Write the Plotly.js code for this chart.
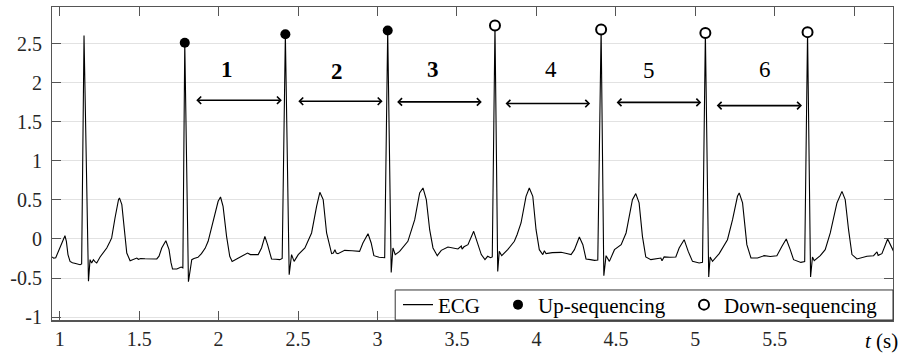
<!DOCTYPE html>
<html><head><meta charset="utf-8">
<script src="https://cdn.plot.ly/plotly-3.0.1.min.js"></script>
<style>html,body{margin:0;padding:0;background:#fff}#chart{width:904px;height:356px}</style>
</head><body><div id="chart"></div>
<script>
const ecgT = [0.952,0.962,0.975,0.995,1.010,1.033,1.042,1.052,1.065,1.080,1.100,1.128,1.138,1.153,1.181,1.191,1.201,1.212,1.222,1.233,1.254,1.275,1.296,1.315,1.327,1.348,1.360,1.370,1.376,1.384,1.391,1.407,1.422,1.443,1.465,1.485,1.495,1.510,1.537,1.570,1.611,1.625,1.642,1.668,1.680,1.688,1.700,1.710,1.737,1.750,1.764,1.775,1.787,1.810,1.820,1.831,1.845,1.856,1.870,1.892,1.915,1.934,1.965,1.997,2.012,2.028,2.050,2.070,2.085,2.113,2.140,2.165,2.182,2.200,2.249,2.270,2.291,2.308,2.333,2.360,2.385,2.400,2.420,2.444,2.459,2.475,2.501,2.543,2.585,2.6165,2.637,2.658,2.6795,2.711,2.722,2.732,2.740,2.751,2.793,2.840,2.887,2.908,2.940,2.960,2.977,3.010,3.034,3.045,3.064,3.086,3.097,3.1115,3.139,3.165,3.191,3.234,3.265,3.286,3.307,3.328,3.349,3.376,3.401,3.443,3.475,3.506,3.527,3.532,3.544,3.569,3.605,3.632,3.653,3.676,3.693,3.711,3.722,3.739,3.7563,3.766,3.7815,3.819,3.861,3.878,3.903,3.9345,3.955,3.977,3.9975,4.018,4.040,4.050,4.0605,4.100,4.155,4.190,4.218,4.239,4.270,4.292,4.312,4.340,4.365,4.386,4.407,4.424,4.438,4.459,4.491,4.533,4.564,4.572,4.604,4.625,4.646,4.667,4.688,4.720,4.750,4.775,4.783,4.790,4.8035,4.840,4.877,4.898,4.9295,4.955,4.982,5.024,5.045,5.063,5.084,5.093,5.108,5.150,5.202,5.234,5.265,5.276,5.297,5.324,5.350,5.391,5.433,5.471,5.513,5.545,5.572,5.597,5.618,5.664,5.688,5.706,5.725,5.737,5.748,5.786,5.817,5.849,5.891,5.9225,5.943,5.964,5.9855,6.017,6.080,6.1215,6.143,6.150,6.174,6.210,6.233,6.2475];
const ecgV = [-0.231,-0.245,-0.240,-0.150,-0.060,0.042,-0.030,-0.200,-0.287,-0.305,-0.315,-0.330,-0.320,2.606,-0.540,-0.265,-0.308,-0.265,-0.290,-0.308,-0.231,-0.170,-0.115,-0.040,0.013,0.269,0.420,0.504,0.526,0.490,0.440,0.119,-0.180,-0.278,-0.265,-0.244,-0.260,-0.250,-0.253,-0.258,-0.256,-0.220,-0.115,-0.022,-0.080,-0.137,-0.300,-0.385,-0.385,-0.370,-0.360,-0.370,2.513,-0.548,-0.400,-0.265,-0.250,-0.244,-0.235,-0.188,-0.120,-0.030,0.205,0.483,0.538,0.418,0.034,-0.222,-0.287,-0.253,-0.230,-0.200,-0.180,-0.200,-0.200,-0.115,0.034,-0.073,-0.256,-0.260,-0.265,-0.250,2.623,-0.458,-0.200,-0.287,-0.200,-0.115,0.077,0.418,0.598,0.504,0.077,-0.188,-0.180,-0.137,-0.180,-0.188,-0.146,-0.150,-0.159,-0.051,0.068,-0.051,-0.214,-0.235,-0.244,-0.240,2.670,-0.428,-0.115,-0.200,-0.159,-0.100,-0.030,0.247,0.590,0.654,0.504,0.119,-0.115,-0.214,-0.146,-0.103,-0.115,-0.128,-0.090,-0.130,-0.100,-0.073,0.098,-0.073,-0.200,-0.265,-0.222,-0.240,-0.230,2.735,-0.415,-0.159,-0.214,-0.137,-0.030,0.055,0.205,0.547,0.654,0.547,0.119,-0.137,-0.200,-0.150,-0.188,-0.175,-0.171,-0.185,-0.200,-0.137,0.025,-0.073,-0.256,-0.265,-0.274,-0.270,2.683,-0.470,-0.214,-0.287,-0.137,-0.073,0.077,0.162,0.504,0.581,0.462,0.034,-0.231,-0.265,-0.255,-0.250,-0.244,-0.280,-0.230,-0.235,-0.231,-0.115,-0.009,-0.159,-0.287,-0.308,-0.300,2.640,-0.488,-0.231,-0.287,-0.188,-0.009,0.247,0.547,0.590,0.462,-0.073,-0.244,-0.244,-0.214,-0.225,-0.214,-0.094,0.000,-0.137,-0.265,-0.300,-0.290,2.650,-0.488,-0.231,-0.278,-0.214,-0.137,0.077,0.462,0.610,0.504,0.119,-0.200,-0.256,-0.222,-0.214,-0.165,-0.210,-0.188,0.000,-0.094,-0.159];
const upT = [1.787, 2.420, 3.064];
const upV = [2.513, 2.623, 2.670];
const downT = [3.739, 4.407, 5.063, 5.706];
const downV = [2.735, 2.683, 2.640, 2.650];
const intervalLabels = ['1','2','3','4','5','6'];
const intervalBold = [true, true, true, false, false, false];
const arrowStart = [1.850, 2.492, 3.114, 3.796, 4.495, 5.125];
const arrowEnd = [2.398, 3.032, 3.656, 4.338, 5.037, 5.671];
const arrowY = [1.777, 1.764, 1.756, 1.735, 1.750, 1.709];
const labelX = [2.052, 2.746, 3.351, 4.090, 4.711, 5.440];
const labelY = [2.171, 2.145, 2.170, 2.177, 2.160, 2.174];
const yTickVals = [-1, -0.5, 0, 0.5, 1, 1.5, 2, 2.5];
const yTickText = ['-1', '-0.5', '0', '0.5', '1', '1.5', '2', '2.5'];
const xTickVals = [1, 1.5, 2, 2.5, 3, 3.5, 4, 4.5, 5, 5.5, 6];
const xTickText = ['1', '1.5', '2', '2.5', '3', '3.5', '4', '4.5', '5', '5.5', ''];

const serifFace = 'Liberation Serif';
const traces = [
  {x: ecgT, y: ecgV, mode: 'lines', name: 'ECG', line: {color: '#000', width: 1.1}, hoverinfo: 'skip', legendwidth: 55},
  {x: upT, y: upV, mode: 'markers', name: 'Up-sequencing', marker: {color: '#000', size: 10, symbol: 'circle'}, legendwidth: 141},
  {x: downT, y: downV, mode: 'markers', name: 'Down-sequencing', marker: {color: '#fff', size: 10, symbol: 'circle', line: {color: '#000', width: 2}}, legendwidth: 164}
];
const annotations = [];
for (let i = 0; i < intervalLabels.length; i++) {
  annotations.push({x: arrowEnd[i], y: arrowY[i], ax: arrowStart[i], ay: arrowY[i], xref: 'x', yref: 'y', axref: 'x', ayref: 'y',
    text: '', showarrow: true, arrowside: 'end+start', arrowhead: 4, startarrowhead: 4, arrowsize: 0.9, startarrowsize: 0.9,
    arrowwidth: 1.6, arrowcolor: '#000', standoff: 0, startstandoff: 0});
  annotations.push({x: labelX[i], y: labelY[i], xref: 'x', yref: 'y', showarrow: false,
    text: intervalBold[i] ? '<b>' + intervalLabels[i] + '</b>' : intervalLabels[i],
    font: {family: serifFace, size: 23, color: '#000'}, xanchor: 'center', yanchor: 'middle'});
}
annotations.push({x: 6.17, y: -0.067, xref: 'x', yref: 'paper', showarrow: false, text: '<i>t</i> (s)',
  font: {family: serifFace, size: 21, color: '#000'}, xanchor: 'center', yanchor: 'middle'});

const layout = {
  width: 904, height: 356,
  margin: {l: 52, r: 11, t: 7, b: 36, pad: 0},
  paper_bgcolor: '#fff', plot_bgcolor: '#fff',
  font: {family: serifFace, size: 20, color: '#262626'},
  showlegend: true,
  legend: {orientation: 'h', x: 1, xanchor: 'right', y: 0.048, yanchor: 'middle', bgcolor: 'rgba(0,0,0,0)', borderwidth: 0,
    font: {family: serifFace, size: 21, color: '#000'}},
  shapes: [{type: 'rect', xref: 'paper', yref: 'paper', x0: 0.4081, x1: 1, y0: 0, y1: 0.0959, layer: 'above',
    fillcolor: '#fff', line: {color: '#333', width: 1}}],
  xaxis: {range: [0.9515, 6.2437], tickvals: xTickVals, ticktext: xTickText, showgrid: false, zeroline: false,
    showline: true, linecolor: '#555', linewidth: 1.5, mirror: 'ticks', ticks: 'inside', ticklen: 9, tickcolor: '#555', tickwidth: 1,
    tickfont: {family: serifFace, size: 20, color: '#262626'}},
  yaxis: {range: [-1.038, 2.972], tickvals: yTickVals, ticktext: yTickText, showgrid: true, gridcolor: '#e2e2e2', gridwidth: 1, zeroline: false,
    showline: true, linecolor: '#555', linewidth: 1, mirror: 'ticks', ticks: 'inside', ticklen: 9, tickcolor: '#555', tickwidth: 1,
    ticklabelstandoff: 5, tickfont: {family: serifFace, size: 20, color: '#262626'}},
  annotations: annotations
};
Plotly.newPlot('chart', traces, layout, {displayModeBar: false, staticPlot: true});
</script></body></html>
